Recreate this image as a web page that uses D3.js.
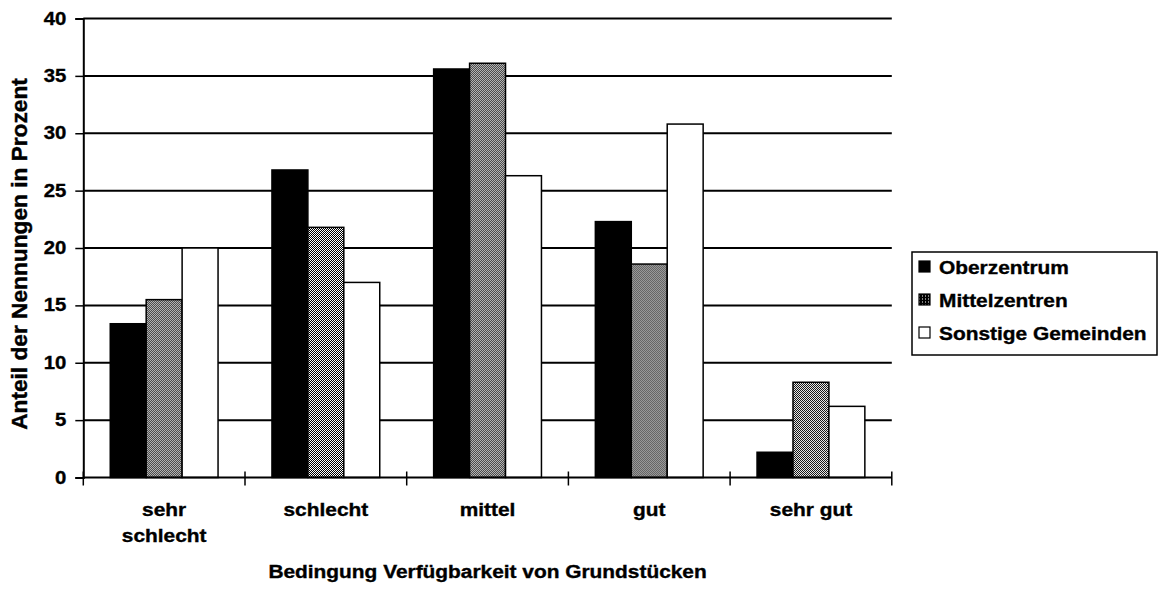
<!DOCTYPE html>
<html>
<head>
<meta charset="utf-8">
<script src="https://cdn.jsdelivr.net/npm/d3@7"></script>
<style>
  body { margin: 0; background: #fff; }
  text { font-family: "Liberation Sans", Arial, sans-serif; font-weight: bold; fill: #000; stroke: #000; stroke-width: 0.35px; }
</style>
</head>
<body>
<script>
// Data
var categories = [["sehr", "schlecht"], ["schlecht"], ["mittel"], ["gut"], ["sehr gut"]];
var seriesNames = ["Oberzentrum", "Mittelzentren", "Sonstige Gemeinden"];
var oberzentrum = [13.4, 26.8, 35.6, 22.3, 2.2];
var mittelzentren = [15.5, 21.8, 36.1, 18.6, 8.3];
var sonstige = [20.0, 17.0, 26.3, 30.8, 6.2];
var yTicks = [0, 5, 10, 15, 20, 25, 30, 35, 40];
var xTitle = "Bedingung Verfügbarkeit von Grundstücken";
var yTitle = "Anteil der Nennungen in Prozent";

var seriesValues = [oberzentrum, mittelzentren, sonstige];
var fills = ["#000", "url(#checker)", "#fff"];
var legendFills = ["#000", "url(#dots)", "#fff"];

// the scan is stretched sideways a bit, so text gets the same stretch
var sx = 1.16;

var width = 1161, height = 589;
var plot = {left: 83.3, right: 891.8, top: 18.5, bottom: 477.5};

var svg = d3.select("body").append("svg")
    .attr("width", width)
    .attr("height", height);

var defs = svg.append("defs");
// checker pattern for the middle series
var pat = defs.append("pattern")
    .attr("id", "checker")
    .attr("width", 2)
    .attr("height", 2)
    .attr("patternUnits", "userSpaceOnUse");
pat.append("rect").attr("width", 2).attr("height", 2).attr("fill", "#fff");
pat.append("rect").attr("width", 1).attr("height", 1).attr("fill", "#000");
pat.append("rect").attr("x", 1).attr("y", 1).attr("width", 1).attr("height", 1).attr("fill", "#000");
// darker dotted version for the small legend swatch
var dots = defs.append("pattern")
    .attr("id", "dots")
    .attr("width", 3)
    .attr("height", 3)
    .attr("patternUnits", "userSpaceOnUse");
dots.append("rect").attr("width", 3).attr("height", 3).attr("fill", "#000");
dots.append("rect").attr("x", 1).attr("y", 1).attr("width", 1).attr("height", 1).attr("fill", "#fff");

// scales
var x0 = d3.scaleBand()
    .domain(d3.range(categories.length))
    .range([plot.left, plot.right])
    .padding(0);
var x1 = d3.scaleBand()
    .domain(d3.range(seriesNames.length))
    .range([0, x0.bandwidth()])
    .paddingInner(0)
    .paddingOuter(0.75);
var y = d3.scaleLinear()
    .domain([0, 40])
    .range([plot.bottom, plot.top]);

// gridlines
svg.append("g")
    .selectAll("line")
    .data(yTicks.filter(function(d) { return d > 0; }))
  .enter().append("line")
    .attr("x1", plot.left)
    .attr("x2", plot.right)
    .attr("y1", function(d) { return y(d); })
    .attr("y2", function(d) { return y(d); })
    .attr("stroke", "#000")
    .attr("stroke-width", 2);

// bars
var groups = svg.append("g")
    .selectAll("g")
    .data(categories)
  .enter().append("g")
    .attr("transform", function(d, i) { return "translate(" + x0(i) + ",0)"; });

groups.selectAll("rect")
    .data(function(d, i) { return seriesValues.map(function(s, j) { return {s: j, v: s[i]}; }); })
  .enter().append("rect")
    .attr("x", function(d) { return x1(d.s); })
    .attr("y", function(d) { return y(d.v); })
    .attr("width", x1.bandwidth())
    .attr("height", function(d) { return y(0) - y(d.v); })
    .attr("fill", function(d) { return fills[d.s]; })
    .attr("stroke", "#000")
    .attr("stroke-width", 1.5);

// y axis
var yAxis = svg.append("g")
    .attr("transform", "translate(" + plot.left + ",0)")
    .call(d3.axisLeft(y).tickValues(yTicks).tickSize(8).tickPadding(9));
yAxis.select(".domain").attr("stroke-width", 2);
yAxis.selectAll(".tick line").attr("stroke-width", 1.5);
yAxis.selectAll(".tick text")
    .attr("x", -17 / sx)
    .attr("transform", "scale(" + sx + ",1)")
    .style("font-size", "17.5px")
    .style("font-family", "'Liberation Sans', Arial, sans-serif");

// x axis line and crossing ticks
svg.append("line")
    .attr("x1", plot.left)
    .attr("x2", plot.right)
    .attr("y1", y(0))
    .attr("y2", y(0))
    .attr("stroke", "#000")
    .attr("stroke-width", 2);
svg.append("g")
    .selectAll("line")
    .data(d3.range(categories.length + 1))
  .enter().append("line")
    .attr("x1", function(d) { return plot.left + d * x0.step(); })
    .attr("x2", function(d) { return plot.left + d * x0.step(); })
    .attr("y1", y(0) - 6)
    .attr("y2", y(0) + 8)
    .attr("stroke", "#000")
    .attr("stroke-width", 1.5);

// category labels
var catLabels = svg.append("g")
    .selectAll("text")
    .data(categories)
  .enter().append("text")
    .attr("text-anchor", "middle")
    .attr("transform", function(d, i) {
        return "translate(" + (x0(i) + x0.bandwidth() / 2) + ",515.5) scale(" + sx + ",1)";
    })
    .style("font-size", "18px");
catLabels.selectAll("tspan")
    .data(function(d) { return d; })
  .enter().append("tspan")
    .attr("x", 0)
    .attr("y", function(d, i) { return i * 26.5; })
    .text(function(d) { return d; });

// axis titles
svg.append("text")
    .attr("text-anchor", "middle")
    .attr("transform", "translate(" + ((plot.left + plot.right) / 2) + ",578) scale(" + sx + ",1)")
    .style("font-size", "18px")
    .text(xTitle);

svg.append("text")
    .attr("text-anchor", "middle")
    .attr("transform", "translate(27,254) rotate(-90) scale(1.195," + sx + ")")
    .style("font-size", "19px")
    .text(yTitle);

// legend
var legend = svg.append("g")
    .attr("transform", "translate(912,252)");
legend.append("rect")
    .attr("width", 245)
    .attr("height", 103)
    .attr("fill", "#fff")
    .attr("stroke", "#000")
    .attr("stroke-width", 1.5);
var items = legend.selectAll(".item")
    .data(seriesNames)
  .enter().append("g")
    .attr("class", "item")
    .attr("transform", function(d, i) { return "translate(0," + (21.5 + i * 33) + ")"; });
items.append("rect")
    .attr("x", 7)
    .attr("y", -12.5)
    .attr("width", 11)
    .attr("height", 11)
    .attr("fill", function(d, i) { return legendFills[i]; })
    .attr("stroke", "#000")
    .attr("stroke-width", 1.2);
items.append("text")
    .attr("transform", "translate(27,0) scale(" + sx + ",1)")
    .style("font-size", "18px")
    .text(function(d) { return d; });
</script>
</body>
</html>
